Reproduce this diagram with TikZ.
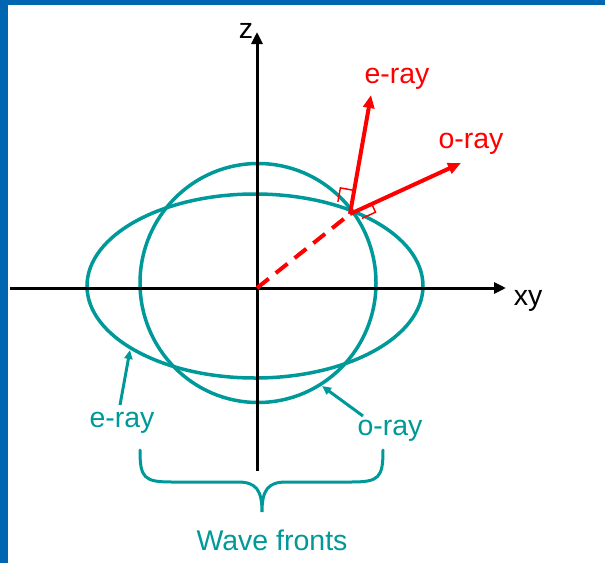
\documentclass[tikz,border=0pt]{standalone}
\usepackage{fontspec}
\setmainfont{Liberation Sans}
\usetikzlibrary{arrows.meta}
\definecolor{teal1}{RGB}{0,153,153}
\definecolor{frameblue}{RGB}{0,102,178}
\begin{document}
\begin{tikzpicture}[x=1pt,y=-1pt,
  lbl/.style={inner sep=0pt,font=\fontsize{28.5}{34}\selectfont},
  axis/.style={black,line width=3pt,-{Triangle[length=12pt,width=11pt]}},
  front/.style={teal1,line width=3.5pt},
  ray/.style={red,line width=4pt,-{Triangle[length=13pt,width=11pt]}},
  pointer/.style={teal1,line width=3pt,-{Triangle[length=9pt,width=8pt]}},
  rmark/.style={red,line width=1.5pt}]
\useasboundingbox (0,0) rectangle (605,563);
\fill[white] (0,0) rectangle (605,563);
\fill[frameblue] (0,0) rectangle (8,563);
\fill[frameblue] (0,0) rectangle (605,5);
% coordinates
\coordinate (O) at (257,288);
\coordinate (xl) at (10,288);
\coordinate (xr) at (506,288);
\coordinate (zb) at (257,471);
\coordinate (zt) at (257,32);
\coordinate (P) at (350,214);
\coordinate (etip) at (371,95);
\coordinate (otip) at (461,163);
% wave fronts
\draw[front] (255,286) ellipse [x radius=168, y radius=92];
\draw[front] (258,283) ellipse [x radius=118, y radius=119.5];
% axes
\draw[axis] (xl) -- (xr);
\draw[axis] (zb) -- (zt);
\node[lbl,anchor=center] (zlab) at (246,31) {z};
\node[lbl,anchor=center] (xylab) at (528,301) {xy};
% rays
\draw[red,line width=4pt,dash pattern=on 15pt off 9pt] (O) -- (P);
\draw[ray] (P) -- (etip);
\draw[ray] (P) -- (otip);
\node[lbl,red] (elab) at (397,79) {e-ray};
\node[lbl,red] (olab) at (471,144) {o-ray};
% right-angle marks
\coordinate (eA) at (354.2,190.4);
\coordinate (eC) at (340.4,187.9);
\coordinate (eD) at (337.9,201.8);
\draw[rmark] (eA) -- (eC) -- (eD);
\coordinate (oA) at (371.8,204.0);
\coordinate (oC) at (375.5,212.2);
\coordinate (oD) at (361.9,218.4);
\draw[rmark] (oA) -- (oC) -- (oD);
% teal labels
\node[lbl,teal1] (elab2) at (122,423) {e-ray};
\node[lbl,teal1] (olab2) at (390,431) {o-ray};
\coordinate (ep) at (130,350);
\coordinate (op) at (322,386);
\coordinate (et) at (120,405);
\coordinate (ot) at (363,416);
\draw[pointer] (et) -- (ep);
\draw[pointer] (ot) -- (op);
% brace
\draw[teal1,line width=3pt,line cap=round]
  (140,450) .. controls (140,478) and (144,482) .. (172,482)
  -- (238,482) .. controls (256,482) and (262,490) .. (262,512)
  .. controls (262,490) and (268,482) .. (286,482)
  -- (351,482) .. controls (379,482) and (383,478) .. (383,450);
\node[lbl,teal1] (wf) at (272,540) {Wave fronts};
\end{tikzpicture}
\end{document}
